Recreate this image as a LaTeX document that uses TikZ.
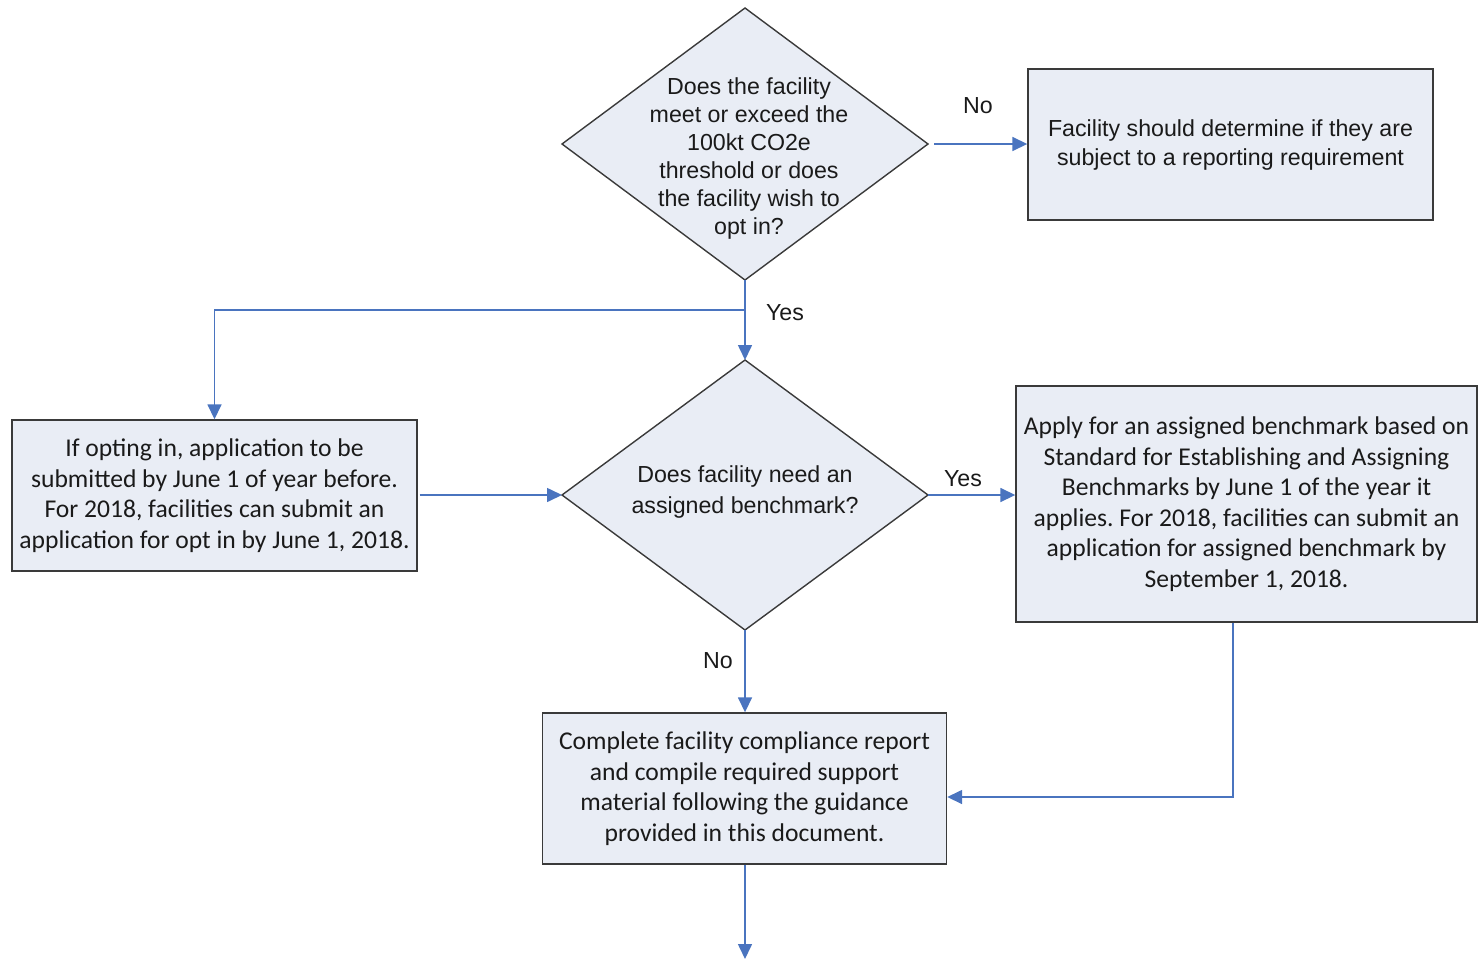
\documentclass[tikz,border=0pt]{standalone}
\usepackage{fontspec}
\setmainfont{Liberation Sans}
\newfontfamily\arialf{Liberation Sans}
\newfontfamily\calf{Carlito}
\usetikzlibrary{arrows.meta,calc}
\definecolor{boxfill}{HTML}{E9EDF5}
\definecolor{boxline}{HTML}{3A3A3A}
\definecolor{arrblue}{HTML}{4A74BF}
\definecolor{txt}{HTML}{1A1A1A}
\frenchspacing
\begin{document}
\begin{tikzpicture}[x=0.5pt,y=-0.5pt,
  shapefill/.style={fill=boxfill,draw=boxline,line width=0.7pt,line join=miter},
  boxnode/.style={shapefill,rectangle,inner sep=0pt,text=txt,align=center,
    font=\calf\fontsize{12.8}{15.25}\selectfont},
  dtext/.style={inner sep=0pt,text=txt,align=center,font=\arialf\fontsize{11.6}{14}\selectfont},
  lbl/.style={inner sep=0pt,text=txt,font=\arialf\fontsize{11.6}{14}\selectfont},
  arr/.style={draw=arrblue,line width=0.8pt,-{Triangle[length=7.5pt,width=7pt]}},
  conn/.style={draw=arrblue,line width=0.8pt}]
\useasboundingbox (0,0) rectangle (1483,959);
% diamond 1
\coordinate (d1t) at (745,8);
\coordinate (d1r) at (928,144);
\coordinate (d1b) at (745,280);
\coordinate (d1l) at (562,144);
\path[shapefill] (d1t) -- (d1r) -- (d1b) -- (d1l) -- cycle;
\node[dtext] (d1) at (749,158) {Does the facility\\meet or exceed the\\100kt CO2e\\threshold or does\\the facility wish to\\opt in?};
% diamond 2
\coordinate (d2t) at (745,360);
\coordinate (d2r) at (928,495);
\coordinate (d2b) at (745,630);
\coordinate (d2l) at (562,495);
\path[shapefill] (d2t) -- (d2r) -- (d2b) -- (d2l) -- cycle;
\node[dtext,font=\arialf\fontsize{11.6}{15.5}\selectfont] (d2) at (745,492) {Does facility need an\\assigned benchmark?};
% boxes
\node[boxnode,minimum width=202.5pt,minimum height=75.5pt,font=\arialf\fontsize{11.6}{14.5}\selectfont] (tbox) at (1230.5,144.5) {Facility should determine if they are\\subject to a reporting requirement};
\node[boxnode,minimum width=202.5pt,minimum height=75.5pt] (lbox) at (214.5,495.5) {If opting in, application to be\\submitted by June 1 of year before.\\For 2018, facilities can submit an\\application for opt in by June 1, 2018.};
\node[boxnode,minimum width=230.5pt,minimum height=118pt] (rbox) at (1246.5,504) {Apply for an assigned benchmark based on\\Standard for Establishing and Assigning\\Benchmarks by June 1 of the year it\\applies. For 2018, facilities can submit an\\application for assigned benchmark by\\September 1, 2018.};
\node[boxnode,minimum width=202pt,minimum height=75.5pt] (bbox) at (744.5,788.5) {Complete facility compliance report\\and compile required support\\material following the guidance\\provided in this document.};
% connectors
\coordinate (br) at (745,310);
\coordinate (rj) at (1233,797);
\coordinate (endpt) at (745,959);
\draw[arr] ($(d1r)+(6,0)$) -- (tbox.west |- d1r);
\draw[arr] (d1b) -- (d2t);
\draw[arr] (br) -| (lbox.north);
\draw[arr] ($(lbox.east |- d2l)+(2,0)$) -- (d2l);
\draw[arr] (d2r) -- (rbox.west |- d2r);
\draw[arr] (d2b) -- (bbox.north -| d2b);
\draw[arr] (rbox.south -| rj) |- (bbox.east |- rj);
\draw[arr] (bbox.south -| endpt) -- (endpt);
% labels
\node[lbl] (lno1) at (978,106) {No};
\node[lbl] (lyes1) at (785,313) {Yes};
\node[lbl] (lyes2) at (963,479) {Yes};
\node[lbl] (lno2) at (718,661) {No};
\end{tikzpicture}
\end{document}
